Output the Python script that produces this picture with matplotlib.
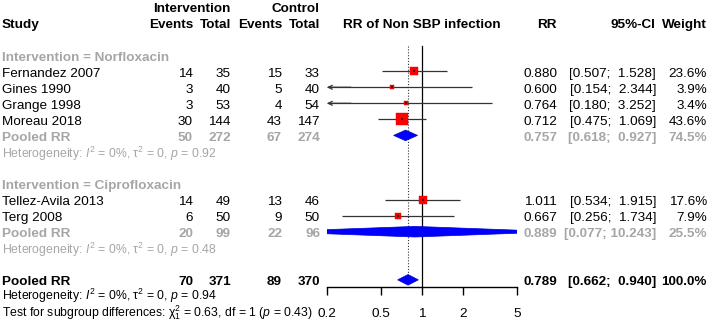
import matplotlib
matplotlib.use("Agg")
import matplotlib.pyplot as plt
from matplotlib.ticker import NullLocator

plt.rcParams['font.family'] = ['Liberation Sans', 'DejaVu Sans']
plt.rcParams['mathtext.fontset'] = 'custom'
plt.rcParams['mathtext.rm'] = 'Liberation Sans'
plt.rcParams['mathtext.it'] = 'Liberation Sans:italic'
plt.rcParams['mathtext.bf'] = 'Liberation Sans:bold'

# ---------------- data ----------------
studies = ["Fernandez 2007", "Gines 1990", "Grange 1998", "Moreau 2018",
           "Tellez-Avila 2013", "Terg 2008"]
groups = ["Norfloxacin", "Norfloxacin", "Norfloxacin", "Norfloxacin",
          "Ciprofloxacin", "Ciprofloxacin"]
ev_int = [14, 3, 3, 30, 14, 6]
tot_int = [35, 40, 53, 144, 49, 50]
ev_ctl = [15, 5, 4, 43, 13, 9]
tot_ctl = [33, 40, 54, 147, 46, 50]
rr = [0.880, 0.600, 0.764, 0.712, 1.011, 0.667]
rr_lo = [0.507, 0.154, 0.180, 0.475, 0.534, 0.256]
rr_hi = [1.528, 2.344, 3.252, 1.069, 1.915, 1.734]
weight = [23.6, 3.9, 3.4, 43.6, 17.6, 7.9]

sub_names = ["Norfloxacin", "Ciprofloxacin"]
sub_ev_int = [50, 20]
sub_tot_int = [272, 99]
sub_ev_ctl = [67, 22]
sub_tot_ctl = [274, 96]
sub_rr = [0.757, 0.889]
sub_lo = [0.618, 0.077]
sub_hi = [0.927, 10.243]
sub_weight = [74.5, 25.5]
sub_het_p = ["0.92", "0.48"]

all_ev_int, all_tot_int, all_ev_ctl, all_tot_ctl = 70, 371, 89, 370
all_rr, all_lo, all_hi, all_weight = 0.789, 0.662, 0.940, 100.0
all_het_p = "0.94"
test_chi2, test_df, test_p = "0.63", "1", "0.43"

xticks = [0.2, 0.5, 1, 2, 5]
xticklabels = ["0.2", "0.5", "1", "2", "5"]

# ---------------- layout ----------------
W, H = 709, 321
ROW0, ROWH = 7.0, 16.05
GRAY = '#A6A6A6'
FS = 9.7
FS_H = 8.8
TOFF = 0.15

fig = plt.figure(figsize=(W / 100, H / 100), dpi=100)
axt = fig.add_axes([0, 0, 1, 1])
axt.set_xlim(0, W)
axt.set_ylim((H - ROW0) / ROWH, -ROW0 / ROWH)
axt.axis('off')

AX_L, AX_R, AX_Y = 327, 517, 287
axf = fig.add_axes([AX_L / W, (H - AX_Y) / H, (AX_R - AX_L) / W, AX_Y / H])
axf.set_xscale('log')
axf.set_xlim(0.2, 5)
axf.set_ylim((AX_Y - ROW0) / ROWH, -ROW0 / ROWH)
axf.patch.set_alpha(0)
for s in ['top', 'left', 'right']:
    axf.spines[s].set_visible(False)
axf.spines['bottom'].set_linewidth(1.0)
axf.set_yticks([])
axf.set_xticks(xticks)
axf.set_xticklabels(xticklabels, fontsize=FS)
axf.xaxis.set_minor_locator(NullLocator())
axf.tick_params(axis='x', direction='out', length=5.8, width=1.0, pad=9.0)

X_EV_I, X_TOT_I, X_EV_C, X_TOT_C = 193, 231, 282, 320
X_RR, X_CI, X_W = 557, 656, 707


def txt(x, r, s, ha='left', color='black', bold=False, fs=FS):
    axt.text(x, r + TOFF, s, ha=ha, va='center', color=color, fontsize=fs,
             fontweight='bold' if bold else 'normal')


def ci_str(lo, hi):
    return "[{:.3f}; {:>6.3f}]".format(lo, hi)


def row_cols(r, name, ei, ti, ec, tc, est, lo, hi, w, color, bold):
    txt(2, r, name, color=color, bold=bold)
    txt(X_EV_I, r, str(ei), ha='right', color=color, bold=bold)
    txt(X_TOT_I, r, str(ti), ha='right', color=color, bold=bold)
    txt(X_EV_C, r, str(ec), ha='right', color=color, bold=bold)
    txt(X_TOT_C, r, str(tc), ha='right', color=color, bold=bold)
    txt(X_RR, r, "{:.3f}".format(est), ha='right', color=color, bold=bold)
    txt(X_CI, r, ci_str(lo, hi), ha='right', color=color, bold=bold)
    txt(X_W, r, "{:.1f}%".format(w), ha='right', color=color, bold=bold)


def diamond(r, est, lo, hi, h=0.33):
    axf.fill([lo, est, hi, est], [r, r - h, r, r + h], color='#0000FF',
             edgecolor='#0000CC', lw=0.5, zorder=4)


def het(r, p, color):
    s = r"Heterogeneity: $\mathit{I}^2$ = 0%, $\mathrm{τ}^2$ = 0, $\mathit{p}$ = " + p
    txt(2, r, s, color=color, fs=FS_H)


# headers
txt(X_TOT_I, 0, "Intervention", ha='right', bold=True)
txt(X_TOT_C, 0, "Control", ha='right', bold=True)
txt(2, 1, "Study", bold=True)
txt(X_EV_I, 1, "Events", ha='right', bold=True)
txt(X_TOT_I, 1, "Total", ha='right', bold=True)
txt(X_EV_C, 1, "Events", ha='right', bold=True)
txt(X_TOT_C, 1, "Total", ha='right', bold=True)
txt(422, 1, "RR of Non SBP infection", ha='center', bold=True)
txt(X_RR - 10, 1, "RR", ha='center', bold=True)
txt(X_CI - 1, 1, "95%-CI", ha='right', bold=True)
txt(X_W, 1, "Weight", ha='right', bold=True)

row = 3
study_rows = []
for g, gname in enumerate(sub_names):
    txt(2, row, "Intervention = " + gname, color=GRAY, bold=True)
    row += 1
    for i in range(len(studies)):
        if groups[i] != gname:
            continue
        row_cols(row, studies[i], ev_int[i], tot_int[i], ev_ctl[i], tot_ctl[i],
                 rr[i], rr_lo[i], rr_hi[i], weight[i], 'black', False)
        study_rows.append((i, row))
        row += 1
    row_cols(row, "Pooled RR", sub_ev_int[g], sub_tot_int[g], sub_ev_ctl[g],
             sub_tot_ctl[g], sub_rr[g], sub_lo[g], sub_hi[g], sub_weight[g],
             GRAY, True)
    diamond(row, sub_rr[g], sub_lo[g], sub_hi[g])
    row += 1
    het(row, sub_het_p[g], GRAY)
    row += 2

overall_row = row
row_cols(row, "Pooled RR", all_ev_int, all_tot_int, all_ev_ctl, all_tot_ctl,
         all_rr, all_lo, all_hi, all_weight, 'black', True)
diamond(row, all_rr, all_lo, all_hi)
het(row + 0.88, all_het_p, 'black')
txt(2, row + 1.9, r"Test for subgroup differences: $\mathrm{χ}^2_1$ = " + test_chi2 +
    ", df = " + test_df + r" ($\mathit{p}$ = " + test_p + ")", fs=FS_H)

# study markers and CIs
LINEC = '#333333'
for i, r in study_rows:
    lo_draw = max(rr_lo[i], 0.2)
    hi_draw = min(rr_hi[i], 5)
    axf.plot([lo_draw, hi_draw], [r, r], color=LINEC, lw=0.9, zorder=2,
             solid_capstyle='butt')
    if rr_lo[i] < 0.2:
        axf.annotate('', xy=(0.2, r), xytext=(0.3, r),
                     arrowprops=dict(arrowstyle='->', color=LINEC, lw=0.9,
                                     shrinkA=0, shrinkB=0, mutation_scale=7),
                     annotation_clip=False, zorder=2)
    axf.scatter([rr[i]], [r], s=1.7 * weight[i], marker='s', color='#FF0000',
                edgecolors='#EE0000', linewidths=0.3, zorder=3)
    axf.scatter([rr[i]], [r], s=2.5, marker='s', color='#400000', zorder=3.5,
                linewidths=0)

# reference lines
top = (46 - ROW0) / ROWH
axf.plot([1, 1], [top, (AX_Y - ROW0) / ROWH], color='black', lw=0.9, zorder=1,
         clip_on=False)
axf.plot([all_rr, all_rr], [top, overall_row - 0.33], color='#333333', lw=0.8,
         linestyle=(0, (1, 1.6)), zorder=1)

fig.savefig("out.png", dpi=100)
